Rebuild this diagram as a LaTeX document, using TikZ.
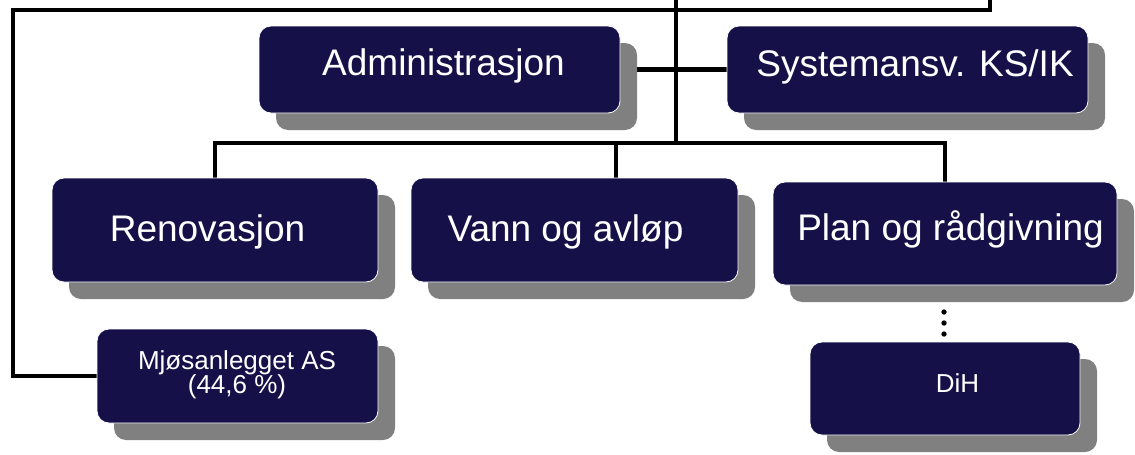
\documentclass[tikz,border=0pt]{standalone}
\usepackage{fontspec}
\setmainfont{Liberation Sans}
\usetikzlibrary{shadows}
\definecolor{navy}{RGB}{21,17,72}
\definecolor{shadowgray}{RGB}{128,128,128}
\begin{document}
\begin{tikzpicture}[x=1pt,y=-1pt,
  box/.style={rectangle, rounded corners=12pt, fill=navy, draw=white, line width=0.8pt, inner sep=0pt,
    drop shadow={shadow xshift=17pt, shadow yshift=-17pt, fill=shadowgray, opacity=1}},
  bigtxt/.style={text=white, anchor=base, inner sep=0pt, font=\fontsize{37}{44}\selectfont},
  smalltxt/.style={text=white, anchor=base, inner sep=0pt, font=\fontsize{26}{26}\selectfont},
  conn/.style={line width=4.5pt, black}]
\useasboundingbox (0,0) rectangle (1135,455);
% connector coordinates
\coordinate (tr) at (990,0);
\coordinate (tc) at (676,0);
\coordinate (tl) at (13,10);
\coordinate (busl) at (215,143);
\coordinate (busc) at (676,143);
\coordinate (busv) at (616,143);
\coordinate (busr) at (945,143);
% box positions (so connectors can reference them)
\path (439.5,69.5) node[minimum width=361pt, minimum height=87pt] (adm0) {};
\path (907.5,69.5) node[minimum width=361pt, minimum height=87pt] (sys0) {};
\path (215,230) node[minimum width=326pt, minimum height=104pt] (ren0) {};
\path (574.5,230) node[minimum width=327pt, minimum height=104pt] (van0) {};
\path (945,233.5) node[minimum width=344pt, minimum height=103pt] (pla0) {};
\path (237.5,376) node[minimum width=281pt, minimum height=94pt] (mjo0) {};
% connectors
\draw[conn] (tr) |- (tl) |- (mjo0.west);
\draw[conn] (tc) -- (busc);
\draw[conn] (adm0.east) -- (sys0.west);
\draw[conn] (ren0.north) -- (busl) -- (busr) -- (pla0.north);
\draw[conn] (busv) -- (busv |- van0.north);
% dots
\foreach \yy in {312,323,334} \fill (944,\yy) circle (2.7pt);
% boxes
\node[box, minimum width=361pt, minimum height=87pt] (adm) at (439.5,69.5) {};
\node[box, minimum width=361pt, minimum height=87pt] (sys) at (907.5,69.5) {};
\node[box, minimum width=326pt, minimum height=104pt] (ren) at (215,230) {};
\node[box, minimum width=327pt, minimum height=104pt] (van) at (574.5,230) {};
\node[box, minimum width=344pt, minimum height=103pt] (pla) at (945,233.5) {};
\node[box, minimum width=281pt, minimum height=94pt] (mjo) at (237.5,376) {};
\node[box, minimum width=270pt, minimum height=93pt] (dih) at (945,388.5) {};
% texts
\node[bigtxt] (admT) at (443.5,75) {Administrasjon};
\node[bigtxt] (sysT) at (915,76) {Systemansv. KS/IK};
\node[bigtxt] (renT) at (207.5,241.5) {Renovasjon};
\node[bigtxt] (vanT) at (565.5,241.5) {Vann og avløp};
\node[bigtxt] (plaT) at (950.5,240) {Plan og rådgivning};
\node[smalltxt] (mjoA) at (237,369) {Mjøsanlegget AS};
\node[smalltxt] (mjoB) at (237,393.5) {(44,6 \%)};
\node[smalltxt] (dihT) at (957.5,392) {DiH};
\end{tikzpicture}
\end{document}
